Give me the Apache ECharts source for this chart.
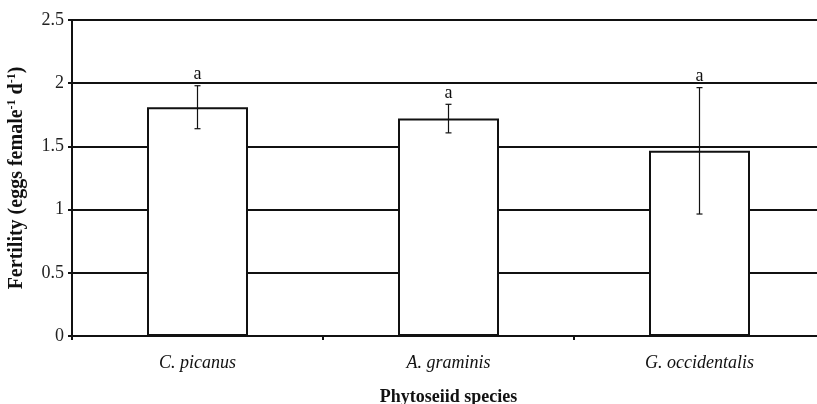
<!DOCTYPE html>
<html>
<head>
<meta charset="utf-8">
<script src="https://cdn.jsdelivr.net/npm/echarts@6/dist/echarts.min.js"></script>
<style>
  html, body { margin: 0; padding: 0; background: #fff; }
  #chart { width: 817px; height: 404px; }
</style>
</head>
<body>
<div id="chart"></div>
<script>
// Mean fertility per phytoseiid species, with error bars and significance letters
const species = ['C. picanus', 'A. graminis', 'G. occidentalis'];
const fertility = [1.81, 1.72, 1.465];
const errorHalf = [0.17, 0.113, 0.5];
const letters = ['a', 'a', 'a'];
const yTicks = [0, 0.5, 1, 1.5, 2, 2.5];

const ink = '#111';
const serif = '"Liberation Serif", "DejaVu Serif", serif';

const errData = species.map((s, i) => [i, fertility[i] - errorHalf[i], fertility[i] + errorHalf[i], letters[i]]);

const chart = echarts.init(document.getElementById('chart'));
chart.setOption({
  animation: false,
  backgroundColor: '#fff',
  grid: { left: 72, right: -8, top: 20, bottom: 68, containLabel: false, outerBoundsMode: 'none' },
  xAxis: {
    type: 'category',
    data: species,
    name: 'Phytoseiid species',
    nameLocation: 'middle',
    nameGap: 52,
    nameTextStyle: { fontFamily: serif, fontWeight: 'bold', fontSize: 18, color: ink },
    axisLine: { lineStyle: { color: ink, width: 2 } },
    axisTick: { show: true, length: 4, lineStyle: { color: ink, width: 2 }, alignWithLabel: false },
    axisLabel: { fontFamily: serif, fontStyle: 'italic', fontSize: 18, color: ink, margin: 18 },
    splitLine: { show: false }
  },
  yAxis: {
    type: 'value',
    min: yTicks[0],
    max: yTicks[yTicks.length - 1],
    interval: yTicks[1] - yTicks[0],
    name: '{t|Fertility (eggs female}{s|-1}{t| d}{s|-1}{t|)}',
    nameLocation: 'middle',
    nameGap: 45,
    nameRotate: 90,
    nameTextStyle: {
      rich: {
        t: { fontFamily: serif, fontWeight: 'bold', fontSize: 20, color: ink },
        s: { fontFamily: serif, fontWeight: 'bold', fontSize: 12, color: ink, verticalAlign: 'top', padding: [0, 0, 9, 0] }
      }
    },
    axisLine: { show: true, lineStyle: { color: ink, width: 2 } },
    axisTick: { show: true, length: 4, lineStyle: { color: ink, width: 2 } },
    axisLabel: { fontFamily: serif, fontSize: 18, color: '#222', margin: 8 },
    splitLine: { show: true, lineStyle: { color: ink, width: 2 } }
  },
  series: [
    {
      type: 'bar',
      data: fertility,
      barWidth: 101,
      itemStyle: { color: '#fff', borderColor: ink, borderWidth: 2 },
      z: 2
    },
    {
      type: 'custom',
      data: errData,
      z: 3,
      renderItem: function (params, api) {
        const x = api.value(0);
        const lo = api.coord([x, api.value(1)]);
        const hi = api.coord([x, api.value(2)]);
        const cap = 3;
        const st = { stroke: ink, lineWidth: 1.2 };
        return {
          type: 'group',
          children: [
            { type: 'line', shape: { x1: hi[0], y1: hi[1], x2: lo[0], y2: lo[1] }, style: st },
            { type: 'line', shape: { x1: hi[0] - cap, y1: hi[1], x2: hi[0] + cap, y2: hi[1] }, style: st },
            { type: 'line', shape: { x1: lo[0] - cap, y1: lo[1], x2: lo[0] + cap, y2: lo[1] }, style: st },
            {
              type: 'text',
              style: {
                x: hi[0], y: hi[1] - 2,
                text: api.value(3),
                align: 'center', verticalAlign: 'bottom',
                font: '18px ' + serif,
                fill: ink
              }
            }
          ]
        };
      }
    }
  ]
});
</script>
</body>
</html>
